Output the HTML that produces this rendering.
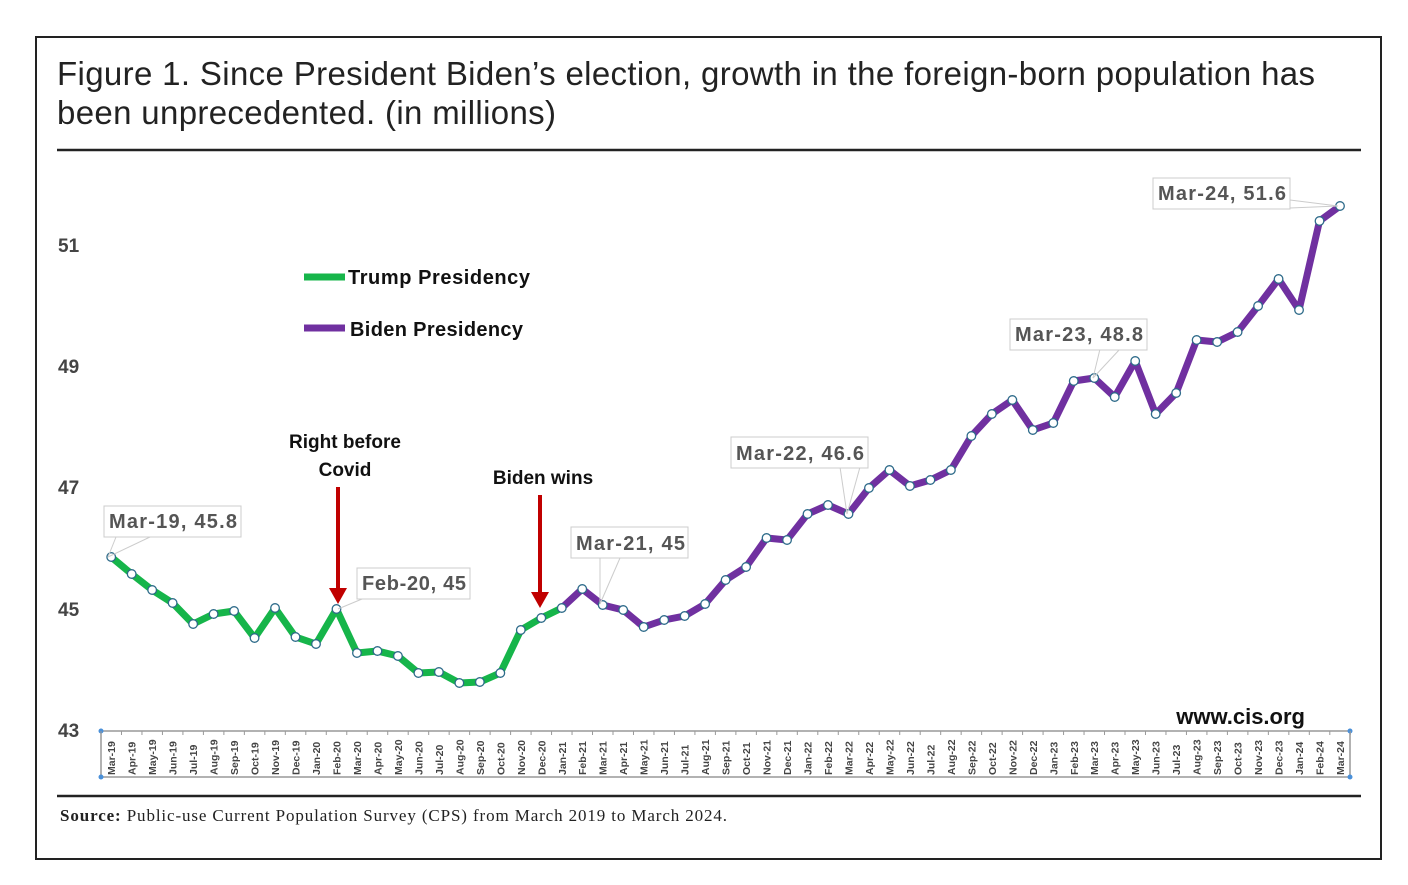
<!DOCTYPE html>
<html><head><meta charset="utf-8"><style>
body{margin:0;background:#fff;width:1408px;height:880px;overflow:hidden}
</style></head><body>
<svg width="1408" height="880" xmlns="http://www.w3.org/2000/svg" font-family="Liberation Sans, sans-serif">
<rect x="36" y="37" width="1345" height="822" fill="#fff" stroke="#222" stroke-width="2"/>
<text x="57" y="85" font-size="33" fill="#222" textLength="1258">Figure 1. Since President Biden’s election, growth in the foreign-born population has</text>
<text x="57" y="124" font-size="33" fill="#222" textLength="499">been unprecedented. (in millions)</text>
<line x1="57" y1="150" x2="1361" y2="150" stroke="#222" stroke-width="2.5"/>
<line x1="57" y1="796" x2="1361" y2="796" stroke="#222" stroke-width="2.5"/>
<text x="60" y="821" font-family="Liberation Serif, serif" font-size="17" fill="#222" textLength="667"><tspan font-weight="bold">Source:</tspan> Public-use Current Population Survey (CPS) from March 2019 to March 2024.</text>
<g font-size="19" font-weight="bold" fill="#444">
<text x="58" y="252">51</text><text x="58" y="373">49</text><text x="58" y="494">47</text><text x="58" y="616">45</text><text x="58" y="737">43</text>
</g>
<rect x="101" y="731" width="1249" height="46" fill="none" stroke="#999" stroke-width="1.5"/>
<circle cx="101" cy="731" r="2.5" fill="#4a90d9"/><circle cx="101" cy="777" r="2.5" fill="#4a90d9"/><circle cx="1350" cy="731" r="2.5" fill="#4a90d9"/><circle cx="1350" cy="777" r="2.5" fill="#4a90d9"/>
<g id="ax"></g>
<line x1="304" y1="277" x2="345" y2="277" stroke="#16b54a" stroke-width="7"/>
<text x="348" y="284" font-size="20" font-weight="bold" fill="#111" textLength="182">Trump Presidency</text>
<line x1="304" y1="328" x2="345" y2="328" stroke="#7030a0" stroke-width="7"/>
<text x="350" y="336" font-size="20" font-weight="bold" fill="#111" textLength="173">Biden Presidency</text>
<g font-size="19" font-weight="bold" fill="#111" text-anchor="middle">
<text x="345" y="448">Right before</text><text x="345" y="476">Covid</text>
<text x="543" y="484">Biden wins</text>
</g>
<line x1="338" y1="487" x2="338" y2="590" stroke="#c00000" stroke-width="4"/><polygon points="329,588 347,588 338,604" fill="#c00000"/>
<line x1="540" y1="495" x2="540" y2="594" stroke="#c00000" stroke-width="4"/><polygon points="531,592 549,592 540,608" fill="#c00000"/>
<text x="1305" y="724" font-size="22" font-weight="bold" fill="#111" text-anchor="end">www.cis.org</text>
<g id="lines"></g>
<g font-size="20" font-weight="bold" fill="#555" stroke-width="1">
<line x1="116" y1="537" x2="108" y2="557" stroke="#ccc"/><line x1="150" y1="537" x2="108" y2="557" stroke="#ccc"/>
<rect x="104" y="506" width="137" height="31" fill="#fff" stroke="#ccc"/><text x="109" y="528" textLength="128">Mar-19, 45.8</text>
<line x1="362" y1="599" x2="338" y2="609" stroke="#ccc"/>
<rect x="357" y="568" width="113" height="31" fill="#fff" stroke="#ccc"/><text x="362" y="590" textLength="104">Feb-20, 45</text>
<line x1="600" y1="558" x2="600" y2="604" stroke="#ccc"/><line x1="620" y1="558" x2="600" y2="604" stroke="#ccc"/>
<rect x="571" y="527" width="117" height="31" fill="#fff" stroke="#ccc"/><text x="576" y="550" textLength="109">Mar-21, 45</text>
<line x1="840" y1="467" x2="847" y2="514" stroke="#ccc"/><line x1="860" y1="467" x2="847" y2="514" stroke="#ccc"/>
<rect x="731" y="437" width="137" height="31" fill="#fff" stroke="#ccc"/><text x="736" y="460" textLength="128">Mar-22, 46.6</text>
<line x1="1100" y1="349" x2="1093" y2="378" stroke="#ccc"/><line x1="1120" y1="349" x2="1093" y2="378" stroke="#ccc"/>
<rect x="1010" y="319" width="137" height="31" fill="#fff" stroke="#ccc"/><text x="1015" y="341" textLength="128">Mar-23, 48.8</text>
<line x1="1290" y1="200" x2="1338" y2="206" stroke="#ccc"/><line x1="1290" y1="208" x2="1338" y2="206" stroke="#ccc"/>
<rect x="1153" y="178" width="137" height="31" fill="#fff" stroke="#ccc"/><text x="1158" y="200" textLength="128">Mar-24, 51.6</text>
</g>
</svg>
<script>
var ys=[557,574,590,603,624,614,611,638,608,637,644,609,653,651,656,673,672,683,682,673,630,618,608,589,605,610,627,620,616,604,580,567,538,540,514,505,514,488,470,486,480,470,436,414,400,430,423,381,378,397,361,414,393,340,342,332,306,279,310,221,206];
var m=["Jan","Feb","Mar","Apr","May","Jun","Jul","Aug","Sep","Oct","Nov","Dec"];
var ax=document.getElementById("ax"),L=document.getElementById("lines");
function X(i){return 111.2+i*20.48}
var s="";
for(var i=0;i<=61;i++){var tx=101+i*20.48;s+='<line x1="'+tx+'" y1="731" x2="'+tx+'" y2="735" stroke="#999"/>';}
for(var i=0;i<61;i++){var mi=(2+i)%12,yr=19+Math.floor((2+i)/12);var lab=m[mi]+"-"+yr;
s+='<text transform="translate('+(X(i)+4)+',775) rotate(-90)" font-size="10.5" font-weight="bold" fill="#444">'+lab+'</text>';}
ax.innerHTML=s;
function pts(a,b){var p=[];for(var i=a;i<=b;i++)p.push(X(i)+","+ys[i]);return p.join(" ");}
var t='<polyline points="'+pts(0,22)+'" fill="none" stroke="#16b54a" stroke-width="7" stroke-linejoin="round"/>';
t+='<polyline points="'+pts(22,60)+'" fill="none" stroke="#7030a0" stroke-width="7" stroke-linejoin="round"/>';
for(var i=0;i<61;i++)t+='<circle cx="'+X(i)+'" cy="'+ys[i]+'" r="4.3" fill="#fff" stroke="#2e6b8a" stroke-width="1.3"/>';
L.innerHTML=t;
</script>
</body></html>
